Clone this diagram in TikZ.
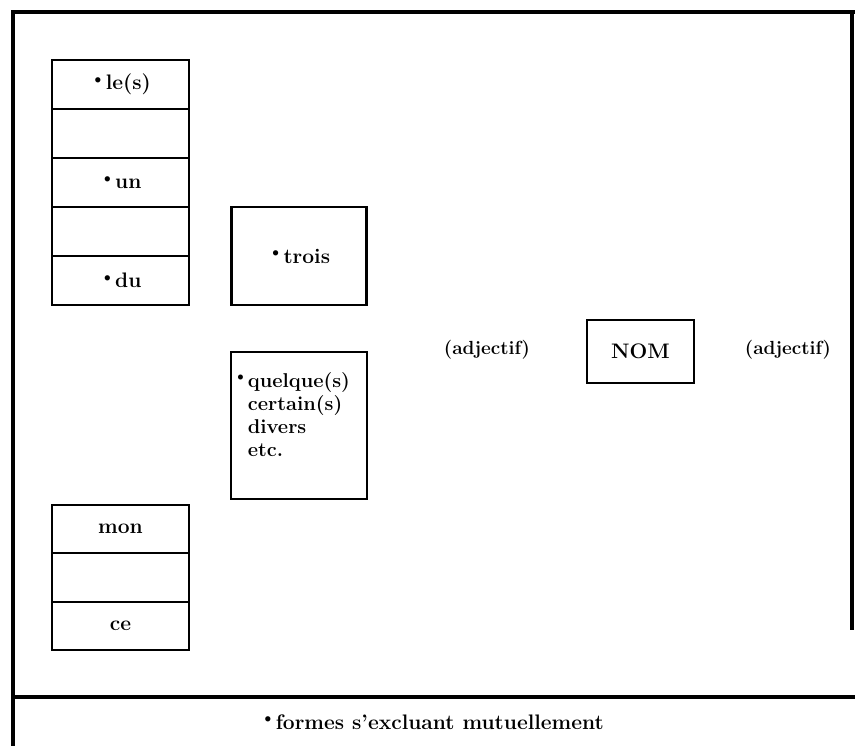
\documentclass[tikz,border=0pt]{standalone}
\usepackage{fontspec}
\newcommand{\bul}{\raisebox{0.6ex}{\scalebox{0.85}{\textbullet}}}
\tikzset{
  frameline/.style={line width=3.5pt},
  cell/.style={draw, line width=2.2pt, minimum width=137pt, inner sep=0pt, font=\fontsize{21}{23}\selectfont\bfseries},
  lbl/.style={inner sep=0pt, font=\fontsize{19}{23}\selectfont\bfseries},
}
\begin{document}
\begin{tikzpicture}[x=1pt,y=-1pt]
\useasboundingbox (0,0) rectangle (855,746);
% frame
\coordinate (tl) at (13,12);
\coordinate (tr) at (855,12);
\coordinate (bl) at (13,746);
\coordinate (rt) at (852,12);
\coordinate (rb) at (852,630);
\coordinate (hl) at (13,697);
\coordinate (hr) at (855,697);
\draw[frameline] (tr) -- (tl) -- (bl);
\draw[frameline] (rt) -- (rb);
\draw[frameline] (hl) -- (hr);
% left stack
\node[cell, minimum height=49pt] (c1) at (120.5,84.5) {\bul le(s)};
\node[cell, minimum height=49pt] (c2) at (120.5,133.5) {};
\node[cell, minimum height=49pt] (c3) at (120.5,182.5) {\bul un};
\node[cell, minimum height=49pt] (c4) at (120.5,231.5) {};
\node[cell, minimum height=49pt] (c5) at (120.5,280.5) {\bul du};
% trois
\node[cell, minimum width=135pt, minimum height=98pt] (trois) at (299,256) {\bul trois};
% quelque
\node[cell, minimum width=136pt, minimum height=147pt] (qq) at (299,425.5) {};
\node[lbl, anchor=north west, align=left, font=\fontsize{20}{23}\selectfont\bfseries] (qqt) at ([xshift=3pt,yshift=-21pt]qq.north west)
  {\bul quelque(s)\\\hphantom{\bul}certain(s)\\\hphantom{\bul}divers\\\hphantom{\bul}etc.};
% NOM
\node[cell, minimum width=107pt, minimum height=63pt] (nom) at (640.5,351.5) {NOM};
\node[lbl] (adj1) at (487,350) {(adjectif)};
\node[lbl] (adj2) at (788,350) {(adjectif)};
% bottom stack
\node[cell, minimum height=48.33pt] (d1) at (120.5,529.2) {mon};
\node[cell, minimum height=48.33pt] (d2) at (120.5,577.5) {};
\node[cell, minimum height=48.33pt] (d3) at (120.5,625.8) {ce};
% footnote
\node[inner sep=0pt, font=\fontsize{21}{23}\selectfont\bfseries] (foot) at (432,722) {\bul formes s'excluant mutuellement};
\end{tikzpicture}
\end{document}
